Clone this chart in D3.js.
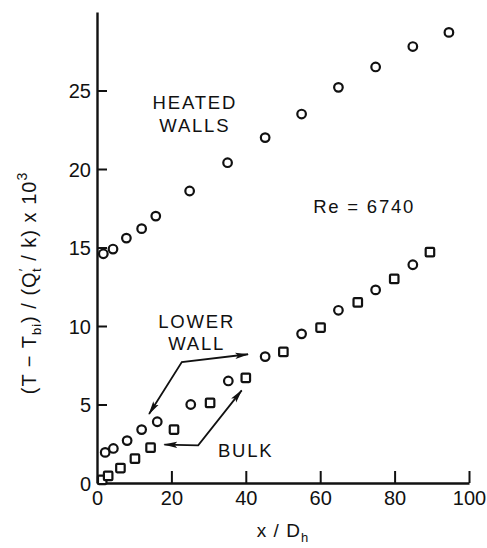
<!DOCTYPE html>
<html>
<head>
<meta charset="utf-8">
<script src="https://cdn.jsdelivr.net/npm/d3@7"></script>
<style>
  html, body { margin: 0; padding: 0; background: #fff; }
  svg { display: block; }
  text { font-family: "Liberation Sans", Arial, sans-serif; fill: #111; }
</style>
</head>
<body>
<svg id="chart" width="487" height="548"></svg>
<script>
// Dimensionless temperature rise along the duct, Re = 6740
const heatedX = [1.7, 4.3, 7.9, 12.0, 15.8, 24.9, 35.1, 45.2, 55.0, 64.9, 74.9, 84.9, 94.6];
const heatedY = [14.6, 14.9, 15.6, 16.2, 17.0, 18.6, 20.4, 22.0, 23.5, 25.2, 26.5, 27.8, 28.7];

const lowerX = [2.2, 4.4, 8.1, 12.0, 16.2, 25.2, 35.3, 45.2, 55.0, 64.9, 74.9, 84.9];
const lowerY = [1.95, 2.2, 2.7, 3.4, 3.9, 5.0, 6.5, 8.05, 9.5, 11.0, 12.3, 13.9];

const bulkX = [1.4, 3.0, 6.3, 10.2, 14.4, 20.7, 30.4, 40.0, 50.1, 60.1, 70.1, 79.9, 89.5];
const bulkY = [0.2, 0.45, 0.95, 1.55, 2.25, 3.4, 5.1, 6.7, 8.35, 9.9, 11.5, 13.0, 14.7];

const xTicks = [0, 20, 40, 60, 80, 100];
const yTicks = [0, 5, 10, 15, 20, 25];

const svg = d3.select("#chart");
const x = d3.scaleLinear().domain([0, 100]).range([97, 469]);
const y = d3.scaleLinear().domain([0, 30]).range([483, 12]);

// axes with inward ticks
const gx = svg.append("g").attr("transform", `translate(0,${y(0)})`)
  .call(d3.axisBottom(x).tickValues(xTicks).tickFormat(d3.format("d"))
    .tickSizeInner(-12).tickSizeOuter(0).tickPadding(8));
const gy = svg.append("g").attr("transform", `translate(${x(0)},0)`)
  .call(d3.axisLeft(y).tickValues(yTicks).tickFormat(d3.format("d"))
    .tickSizeInner(-10).tickSizeOuter(0).tickPadding(6));
[gx, gy].forEach(g => {
  g.select(".domain").attr("stroke", "#111").attr("stroke-width", 2.4);
  g.selectAll(".tick line").attr("stroke", "#111").attr("stroke-width", 2);
  g.selectAll(".tick text").attr("font-size", 20).attr("font-family", "Liberation Sans, Arial, sans-serif").attr("fill", "#111");
});
gx.selectAll(".tick").filter(d => d === 0).select("line").remove();
gy.selectAll(".tick").filter(d => d === 0).select("line").remove();
gy.selectAll(".tick text").attr("dy", "0.36em");

// markers
const pairs = (xs, ys) => xs.map((v, i) => [v, ys[i]]);
svg.append("g").selectAll("circle").data(pairs(heatedX, heatedY).concat(pairs(lowerX, lowerY)))
  .join("circle")
  .attr("cx", d => x(d[0])).attr("cy", d => y(d[1])).attr("r", 4.3)
  .attr("fill", "#fff").attr("stroke", "#111").attr("stroke-width", 2.2);
const sq = 8.5;
svg.append("g").selectAll("rect").data(pairs(bulkX, bulkY))
  .join("rect")
  .attr("x", d => x(d[0]) - sq / 2).attr("y", d => y(d[1]) - sq / 2)
  .attr("width", sq).attr("height", sq).attr("rx", 1)
  .attr("fill", "#fff").attr("stroke", "#111").attr("stroke-width", 2.2);

// arrowheads
const defs = svg.append("defs");
defs.append("marker").attr("id", "head").attr("viewBox", "0 -4 14 8")
  .attr("refX", 13).attr("refY", 0).attr("markerWidth", 14).attr("markerHeight", 8)
  .attr("markerUnits", "userSpaceOnUse").attr("orient", "auto-start-reverse")
  .append("path").attr("d", "M0,-3.2L14,0L0,3.2L3,0Z").attr("fill", "#111");

const lowerArrow = [[40.6, 8.2], [22.8, 7.7], [14.0, 4.4]];
const bulkArrow = [[18.1, 2.45], [27.2, 2.4], [38.9, 5.9]];
const line = d3.line().x(d => x(d[0])).y(d => y(d[1]));
[lowerArrow, bulkArrow].forEach(pts => {
  svg.append("path").attr("d", line(pts)).attr("fill", "none")
    .attr("stroke", "#111").attr("stroke-width", 1.8)
    .attr("marker-start", "url(#head)").attr("marker-end", "url(#head)");
});

// annotations
const note = (txt, vx, vy, anchor) => svg.append("text")
  .attr("x", x(vx)).attr("y", y(vy)).attr("text-anchor", anchor)
  .attr("font-size", 18.5).attr("letter-spacing", 1.8).text(txt);
note("HEATED", 26.3, 23.8, "middle");
note("WALLS", 26.3, 22.35, "middle");
note("Re = 6740", 58.1, 17.2, "start");
note("LOWER", 26.8, 9.9, "middle");
note("WALL", 26.8, 8.5, "middle");
note("BULK", 32.5, 1.65, "start");

// axis titles
const xt = svg.append("text").attr("x", x(50)).attr("y", 537)
  .attr("text-anchor", "middle").attr("font-size", 19).attr("letter-spacing", 1);
xt.append("tspan").text("x / D");
xt.append("tspan").attr("font-size", 13).attr("dy", 5).text("h");

const yt = svg.append("text").attr("transform", `translate(36,${283}) rotate(-90)`)
  .attr("text-anchor", "middle").attr("font-size", 20).attr("letter-spacing", 1);
yt.append("tspan").text("(T − T");
yt.append("tspan").attr("font-size", 13).attr("dy", 5).text("bi");
yt.append("tspan").attr("dy", -5).text(") / (Q");
yt.append("tspan").attr("font-size", 13).attr("dy", -8).text("′");
yt.append("tspan").attr("font-size", 13).attr("dx", -4).attr("dy", 13).text("t");
yt.append("tspan").attr("dy", -5).text(" / k) x 10");
yt.append("tspan").attr("font-size", 14).attr("dy", -9).text("3");
</script>
</body>
</html>
